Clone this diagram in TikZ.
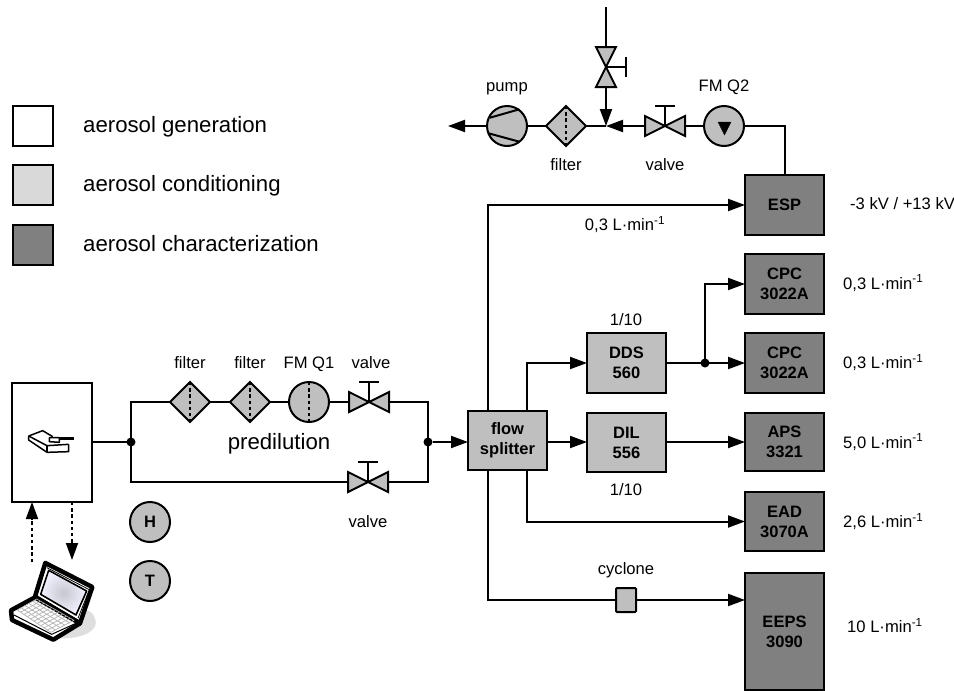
\documentclass[tikz,border=0pt]{standalone}
\usepackage{fontspec}
\setmainfont{Liberation Sans}
\usetikzlibrary{arrows.meta,shapes.geometric,calc}
\definecolor{mid}{HTML}{BFBFBF}
\definecolor{lite}{HTML}{D9D9D9}
\definecolor{dark}{HTML}{808080}
\newcommand{\lmin}[1]{#1 L·min\textsuperscript{-1}}
\newcommand{\hvalve}[3]{%
  \node[valvebox,minimum width=40pt,minimum height=20pt] (#1) at (#2,#3) {};
  \draw[ln,fill=mid] (#1.north west) -- (#1.south east) -- (#1.north east) -- (#1.south west) -- cycle;
  \draw[ln] (#1.center) -- ++(0,-20) ++(-10,0) -- ++(20,0);}
\newcommand{\filt}[3]{%
  \node[filterbox] (#1) at (#2,#3) {};
  \draw[dashln] (#1.north) -- (#1.south);}
\tikzset{
  ln/.style={line width=2pt,line join=miter},
  dashln/.style={line width=1.8pt,dash pattern=on 3.4pt off 2.8pt},
  arr/.style={ln,-{Triangle[length=17pt,width=12pt]},shorten >=0pt},
  darr/.style={line width=1.8pt,dash pattern=on 3.4pt off 2.8pt,-{Triangle[length=17pt,width=12pt]}},
  base/.style={draw,line width=2pt,inner sep=0pt,outer sep=0pt},
  box/.style={base,rectangle,font=\fontsize{16.5}{20}\selectfont\bfseries,align=center},
  condbox/.style={box,fill=mid,minimum width=79pt,minimum height=59pt},
  charbox/.style={box,fill=dark,minimum width=79pt,minimum height=59pt},
  legendbox/.style={base,rectangle,minimum width=40pt,minimum height=40pt},
  valvebox/.style={rectangle,inner sep=0pt,outer sep=0pt},
  filterbox/.style={base,diamond,aspect=1,fill=mid,minimum width=40pt,minimum height=40pt},
  disc/.style={base,circle,fill=mid,minimum size=40pt,font=\fontsize{16.5}{20}\selectfont\bfseries},
  dot/.style={circle,fill=black,inner sep=0pt,minimum size=9pt,outer sep=0pt},
  lab/.style={font=\fontsize{16.6}{20}\selectfont,inner sep=0pt,anchor=base},
  labw/.style={font=\fontsize{16.6}{20}\selectfont,inner sep=0pt,anchor=base west},
  big/.style={font=\fontsize{22.2}{26}\selectfont,inner sep=0pt,anchor=base},
  bigw/.style={font=\fontsize{22.2}{26}\selectfont,inner sep=0pt,anchor=base west},
}
\begin{document}
\begin{tikzpicture}[x=1pt,y=-1pt]
\path[use as bounding box] (0,0) rectangle (954,691);
% legend
\node[legendbox,fill=white] (lg1) at (33,126) {};
\node[legendbox,fill=lite] (lg2) at (33,185) {};
\node[legendbox,fill=dark] (lg3) at (33,245) {};
\node[bigw] (lt1) at (83,132.7) {aerosol generation};
\node[bigw] (lt2) at (83,191.7) {aerosol conditioning};
\node[bigw] (lt3) at (83,251.7) {aerosol characterization};
% generator
\node[base,rectangle,fill=white,minimum width=80pt,minimum height=119pt] (gen) at (52,442.5) {};
\begin{scope}[shift={(22,425)},x=0.3333pt,y=-0.3333pt,line width=1.5pt,line join=round]
  \draw (20,33) -- (62,17) -- (92,35);
  \draw (20,33) -- (75,62) -- (140,58);
  \draw (20,33) -- (20,45) -- (75,82) -- (140,80) -- (140,58);
  \draw (75,62) -- (75,82);
  \draw (82,50) -- (82,38) -- (112,38) -- (112,52) -- cycle;
  \draw[line width=2.4pt] (112,41) -- (156,41);
\end{scope}
\coordinate (jl) at (131,442);
\coordinate (jr) at (428,442);
\coordinate (ut) at (131,402);
\coordinate (ub) at (131,482);
\coordinate (rt) at (428,402);
\coordinate (rb) at (428,482);
% upper branch
\filt{f1}{190}{402}
\filt{f2}{250}{402}
\node[disc] (q1) at (309,402) {};
\draw[dashln] (q1.north) -- (q1.south);
\hvalve{v1}{369}{402}
\hvalve{v2}{368}{482}
\draw[ln] (gen.east |- jl) -- (jl);
\draw[ln] (f1.west) -- (ut) -- (ub) -- (v2.west);
\draw[ln] (f1.east) -- (f2.west);
\draw[ln] (f2.east) -- (q1.west);
\draw[ln] (q1.east) -- (v1.west);
\draw[ln] (v1.east) -- (rt) -- (rb) -- (v2.east);
\node[dot] (d1) at (jl) {};
\node[dot] (d2) at (jr) {};
\node[lab] (tf1) at (190,368.3) {filter};
\node[lab] (tf2) at (250,368.3) {filter};
\node[lab] (tq1) at (309,368.3) {FM Q1};
\node[lab] (tv1) at (371,368.3) {valve};
\node[lab] (tv2) at (368,527.3) {valve};
\node[big] (tp) at (279,449.3) {predilution};
\node[disc] (H) at (150,522) {H};
\node[disc] (T) at (150,581) {T};
% splitter and instruments
\node[condbox,minimum height=59pt] (split) at (507.5,440.5) {flow\\splitter};
\node[condbox,minimum height=60pt] (dds) at (626.5,363) {DDS\\560};
\node[condbox] (dil) at (626.5,442.5) {DIL\\556};
\node[charbox,minimum height=60pt] (esp) at (784.5,205) {ESP};
\node[charbox,minimum height=60pt] (cpc1) at (784.5,284) {CPC\\3022A};
\node[charbox,minimum height=60pt] (cpc2) at (784.5,363) {CPC\\3022A};
\node[charbox,minimum height=58pt] (aps) at (784.5,442) {APS\\3321};
\node[charbox] (ead) at (784.5,521.5) {EAD\\3070A};
\node[charbox,minimum height=117pt] (eeps) at (784.5,631.5) {EEPS\\3090};
\node[base,rectangle,rounded corners=1pt,fill=mid,minimum width=20pt,minimum height=24pt] (cyc) at (626,600) {};
\draw[arr] (d2) -- (jr -| split.west);
\draw[arr] (jr -| split.east) -- (jr -| dil.west);
\draw[arr] (jr -| dil.east) -- (jr -| aps.west);
\draw[arr] ([xshift=-20pt]split.north) |- (esp.west);
\draw[arr] ([xshift=19.5pt]split.north) |- (dds.west);
\draw[arr] ([xshift=19.5pt]split.south) |- (ead.west);
\draw[ln] ([xshift=-19.5pt]split.south) |- (cyc.west);
\draw[arr] (cyc.east) -- (cyc -| eeps.west);
\draw[arr] (dds.east) -- (cpc2.west);
\coordinate (j3) at (705,363);
\draw[arr] (j3) |- (cpc1.west);
\node[dot] (d3) at (j3) {};
% labels
\node[lab] (r1) at (626,325) {1/10};
\node[lab] (r2) at (626,495) {1/10};
\node[lab] (tc) at (626,574) {cyclone};
\node[lab] (t0) at (625,230.5) {\lmin{0,3}};
\node[labw] (t1) at (850,209.3) {-3 kV / +13 kV};
\node[labw] (t2) at (843,289) {\lmin{0,3}};
\node[labw] (t3) at (843,368.3) {\lmin{0,3}};
\node[labw] (t4) at (843,448) {\lmin{5,0}};
\node[labw] (t5) at (843,527.3) {\lmin{2,6}};
\node[labw] (t6) at (847,632.7) {\lmin{10}};
% exhaust line
\coordinate (jt) at (606,126);
\coordinate (top) at (606,7);
\coordinate (out) at (448,126);
\node[valvebox,minimum width=20pt,minimum height=40pt] (v3) at (606,67) {};
\draw[ln,fill=mid] (v3.north west) -- (v3.north east) -- (v3.south west) -- (v3.south east) -- cycle;
\draw[ln] (v3.center) -- ++(20,0) ++(0,-10) -- ++(0,20);
\hvalve{v4}{665}{126}
\node[disc] (q2) at (724,126) {};
\draw[fill=black] (718,122) -- (731,122) -- (724.5,135) -- cycle;
\filt{f3}{566}{126}
\node[disc] (pump) at (507,126) {};
\draw[ln] (490,117.7) -- (519.3,109.3);
\draw[ln] (488.5,133.3) -- (519.3,141.7);
\draw[ln] (top) -- (v3.north);
\draw[arr] (v3.south) -- (jt);
\draw[arr] (v4.west) -- (jt);
\draw[ln] (v4.east) -- (q2.west);
\draw[ln] (q2.east) -| (esp.north);
\draw[ln] (jt) -- (f3.east);
\draw[ln] (f3.west) -- (pump.east);
\draw[arr] (pump.west) -- (out);
\node[lab] (tpm) at (507,91.7) {pump};
\node[lab] (tq2) at (724,91.7) {FM Q2};
\node[lab] (tf3) at (566,170.7) {filter};
\node[lab] (tv4) at (665,170.7) {valve};
% PC links
\coordinate (up0) at (32,562);
\coordinate (dn1) at (72,560);
\draw[darr] (up0) -- (up0 |- gen.south);
\draw[darr] (dn1 |- gen.south) -- (dn1);
% laptop
\begin{scope}[shift={(0,555)},x=0.3333pt,y=-0.3333pt,line join=round]
  \fill[black!13] (190,250) .. controls (250,250) and (300,225) .. (285,190) .. controls (278,170) and (265,165) .. (250,165) -- (160,250) -- cycle;
  \draw[line width=4.5pt,fill=white] (136,24) -- (277,96) -- (240,205) -- (105,125) -- cycle;
  \draw[line width=1.6pt,shade,inner color=blue!18!black!22,outer color=blue!5!white] (146,46) -- (260,108) -- (228,180) -- (122,118) -- cycle;
  \draw[line width=0.8pt] (141,38) -- (268,104) -- (234,190);
  \draw[line width=4.5pt,fill=white] (33,166) -- (105,127) -- (240,205) -- (160,254) -- (36,195) -- cycle;
  \draw[line width=1pt] (42,180) -- (155,238) -- (232,203);
  \coordinate (ka) at (52,165);
  \coordinate (kb) at (110,132);
  \coordinate (kc) at (222,196);
  \coordinate (kd) at (152,232);
  \draw[black!30,line width=0.7pt] (ka) -- (kb) -- (kc) -- (kd) -- cycle;
  \foreach \t in {0.2,0.4,0.6,0.8}
    \draw[black!30,line width=0.7pt] ($(ka)!\t!(kb)$) -- ($(kd)!\t!(kc)$);
  \foreach \t in {0.1,0.2,0.3,0.4,0.5,0.6,0.7,0.8,0.9}
    \draw[black!30,line width=0.7pt] ($(ka)!\t!(kd)$) -- ($(kb)!\t!(kc)$);
\end{scope}
\end{tikzpicture}
\end{document}
